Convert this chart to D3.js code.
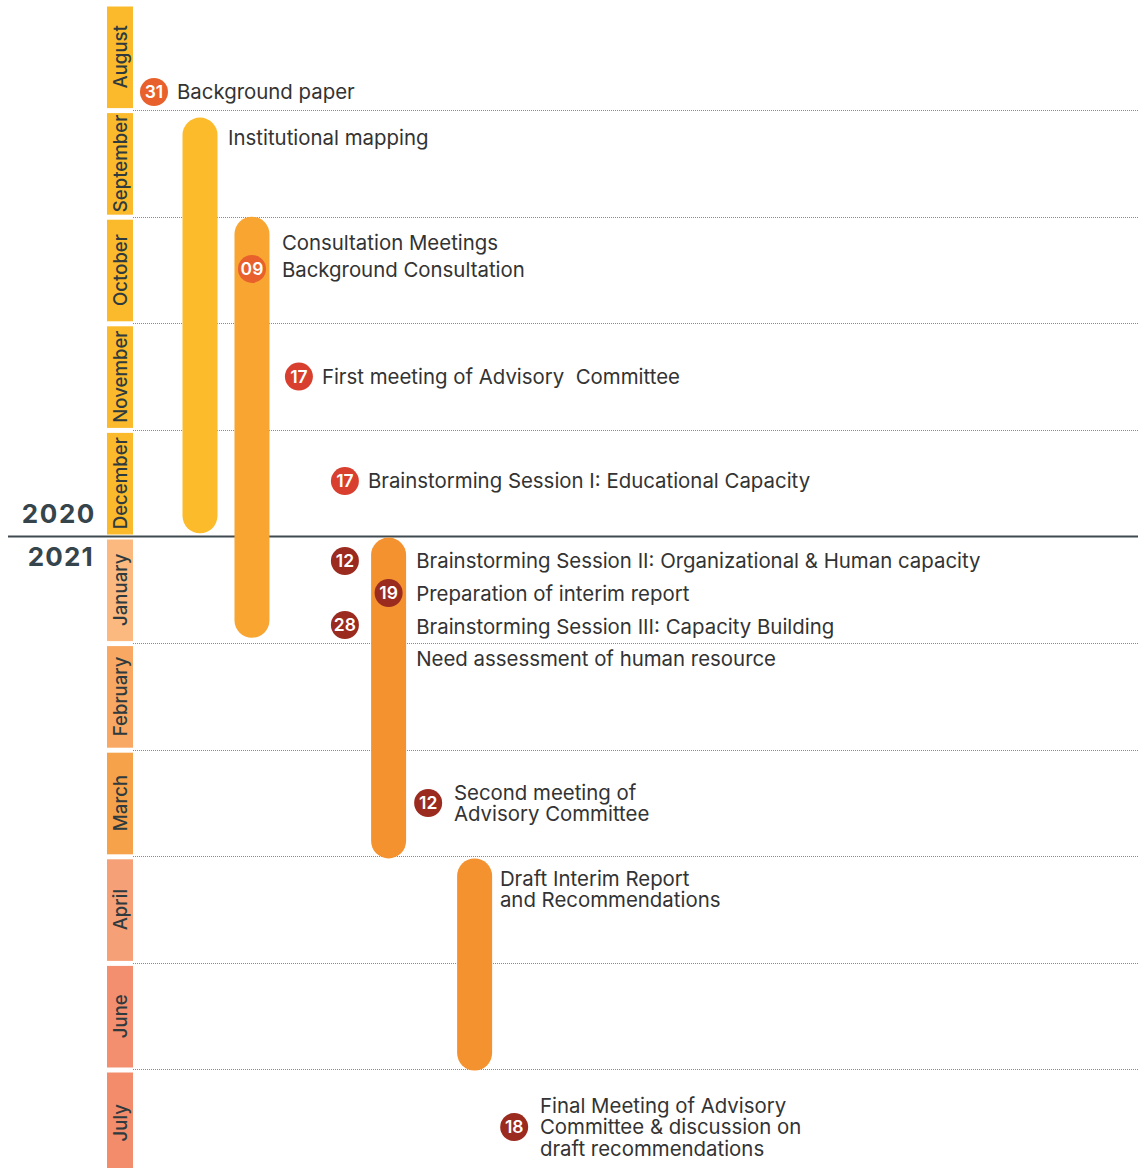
<!DOCTYPE html>
<html>
<head>
<meta charset="utf-8">
<script src="https://cdn.jsdelivr.net/npm/d3@7"></script>
<style>
  html, body { margin: 0; padding: 0; background: #fff; }
  svg { display: block; font-family: Inter, "Open Sans", sans-serif; }
</style>
</head>
<body>
<svg id="chart"></svg>
<script>
// months shown on the left rail, top to bottom
const months = ['August', 'September', 'October', 'November', 'December',
                'January', 'February', 'March', 'April', 'June', 'July'];
const monthColors = ['#FBBA2B', '#FBBA2B', '#FBBA2B', '#FBBA2B', '#FBBA2B',
                     '#FBB97F', '#F8A862', '#F6A24A', '#F5A077', '#F38F6E', '#F38C6B'];

// year split (month index where 2021 begins)
const yearSplit = 5;
const yearLabels = ['2020', '2021'];

// long activities: start / end in month units, lane = column
const bars = [
  {name: 'Institutional mapping', start: 1.07, end: 4.97, lane: 1.0,  color: '#FBBB2B'},
  {name: 'Consultation Meetings', start: 2.0,  end: 5.95, lane: 2.13, color: '#F8A532'},
  {name: 'Interim report',        start: 5.01, end: 8.02, lane: 5.1,  color: '#F49230'},
  {name: 'Draft report',          start: 8.02, end: 10.01, lane: 6.97, color: '#F49230'}
];

// dated events (badge = day of month)
const events = [
  {day: '31', at: 0.83, lane: 0,    kind: 'a'},
  {day: '09', at: 2.49, lane: 2.13, kind: 'a'},
  {day: '17', at: 3.50, lane: 3.15, kind: 'b'},
  {day: '17', at: 4.48, lane: 4.15, kind: 'b'},
  {day: '12', at: 5.23, lane: 4.15, kind: 'c'},
  {day: '19', at: 5.53, lane: 5.1,  kind: 'c'},
  {day: '28', at: 5.83, lane: 4.15, kind: 'c'},
  {day: '12', at: 7.50, lane: 5.96, kind: 'c'},
  {day: '18', at: 10.54, lane: 7.83, kind: 'c'}
];
const badgeColors = {a: '#E8612C', b: '#D83F2E', c: '#9B2A1F'};

// text labels
const labels = [
  {lines: ['Background paper'], at: 0.83, lane: 0.5},
  {lines: ['Institutional mapping'], at: 1.26, lane: 1.61},
  {lines: ['Consultation Meetings'], at: 2.24, lane: 2.78},
  {lines: ['Background Consultation'], at: 2.50, lane: 2.78},
  {lines: ['First meeting of Advisory  Committee'], at: 3.50, lane: 3.65},
  {lines: ['Brainstorming Session I: Educational Capacity'], at: 4.48, lane: 4.65},
  {lines: ['Brainstorming Session II: Organizational & Human capacity'], at: 5.23, lane: 5.70},
  {lines: ['Preparation of interim report'], at: 5.54, lane: 5.70},
  {lines: ['Brainstorming Session III: Capacity Building'], at: 5.85, lane: 5.70},
  {lines: ['Need assessment of human resource'], at: 6.15, lane: 5.70},
  {lines: ['Second meeting of', 'Advisory Committee'], at: 7.40, lane: 6.52},
  {lines: ['Draft Interim Report', 'and Recommendations'], at: 8.21, lane: 7.52},
  {lines: ['Final Meeting of Advisory', 'Committee & discussion on', 'draft recommendations'], at: 10.34, lane: 8.39}
];

const width = 1138, height = 1168;

const svg = d3.select('#chart')
  .attr('width', width)
  .attr('height', height);

const y = d3.scaleLinear().domain([0, months.length]).range([3.5, 3.5 + 106.6 * months.length]);
const x = d3.scaleLinear().domain([0, 1]).range([154, 200]);

const railX = 107, railW = 26, gridX0 = 133;

// month rail
const rail = svg.append('g');
rail.selectAll('rect')
  .data(months)
  .enter().append('rect')
    .attr('x', railX)
    .attr('y', (d, i) => y(i) + 3)
    .attr('width', railW)
    .attr('height', (d, i) => y(i + 1) - y(i) - 5)
    .attr('fill', (d, i) => monthColors[i]);

rail.selectAll('text')
  .data(months)
  .enter().append('text')
    .attr('transform', (d, i) => 'translate(' + (railX + railW / 2) + ',' + ((y(i) + y(i + 1)) / 2) + ') rotate(-90)')
    .attr('text-anchor', 'middle')
    .attr('dy', '0.36em')
    .attr('font-size', 18.6)
    .attr('font-weight', 500)
    .attr('fill', '#2f3a3f')
    .text(d => d);

// dotted separators
svg.append('g')
  .selectAll('line')
  .data(d3.range(1, months.length).filter(i => i !== yearSplit))
  .enter().append('line')
    .attr('x1', gridX0)
    .attr('x2', width)
    .attr('y1', i => Math.round(y(i)) + 0.5)
    .attr('y2', i => Math.round(y(i)) + 0.5)
    .attr('stroke', '#8a8a8a')
    .attr('stroke-width', 1)
    .attr('stroke-dasharray', '1,1');

// year separator
svg.append('line')
  .attr('x1', 8)
  .attr('x2', width)
  .attr('y1', y(yearSplit))
  .attr('y2', y(yearSplit))
  .attr('stroke', '#3f4a50')
  .attr('stroke-width', 2);

svg.append('text')
  .attr('x', 96).attr('y', y(yearSplit) - 14)
  .attr('text-anchor', 'end')
  .attr('font-size', 26).attr('font-weight', 700)
  .attr('letter-spacing', 1.6)
  .attr('fill', '#36454c')
  .text(yearLabels[0]);

svg.append('text')
  .attr('x', 94).attr('y', y(yearSplit) + 29)
  .attr('text-anchor', 'end')
  .attr('font-size', 26).attr('font-weight', 700)
  .attr('letter-spacing', 1.2)
  .attr('fill', '#36454c')
  .text(yearLabels[1]);

// activity bars
const barW = 35;
svg.append('g')
  .selectAll('rect')
  .data(bars)
  .enter().append('rect')
    .attr('x', d => x(d.lane) - barW / 2)
    .attr('y', d => y(d.start))
    .attr('width', barW)
    .attr('height', d => y(d.end) - y(d.start))
    .attr('rx', barW / 2)
    .attr('fill', d => d.color);

// event badges
const badge = svg.append('g')
  .selectAll('g')
  .data(events)
  .enter().append('g')
    .attr('transform', d => 'translate(' + x(d.lane) + ',' + y(d.at) + ')');

badge.append('circle')
  .attr('r', 14)
  .attr('fill', d => badgeColors[d.kind]);

badge.append('text')
  .attr('text-anchor', 'middle')
  .attr('dy', '0.36em')
  .attr('font-size', 17.5)
  .attr('font-weight', 600)
  .attr('fill', '#fff')
  .text(d => d.day);

// labels
const lineH = 21.3;
const lab = svg.append('g')
  .selectAll('text')
  .data(labels)
  .enter().append('text')
    .attr('x', d => x(d.lane))
    .attr('y', d => y(d.at))
    .attr('font-size', 20.4)
    .attr('fill', '#333333');

lab.selectAll('tspan')
  .data(d => d.lines.map((t, i) => ({t, i, x: x(d.lane)})))
  .enter().append('tspan')
    .attr('x', d => d.x)
    .attr('dy', d => d.i === 0 ? '0.36em' : lineH)
    .style('white-space', 'pre')
    .text(d => d.t);
</script>
</body>
</html>
